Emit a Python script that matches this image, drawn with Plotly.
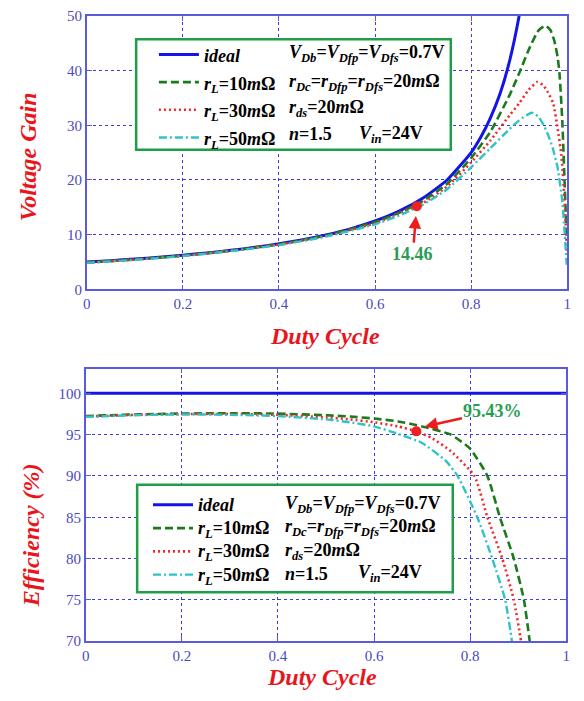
import plotly.graph_objects as go

W, H = 584, 701

# ---------------- data: voltage gain ----------------
d_ideal = [0, 0.05, 0.1, 0.15, 0.2, 0.25, 0.3, 0.35, 0.4, 0.45, 0.5, 0.55, 0.6, 0.65,
           0.7, 0.75, 0.8, 0.82, 0.84, 0.86, 0.88, 0.9, 0.91]
g_ideal = [5.0, 5.26, 5.56, 5.88, 6.25, 6.67, 7.14, 7.69, 8.33, 9.09, 10.0, 11.1, 12.5, 14.3,
           16.7, 20.0, 25.0, 27.8, 31.3, 35.7, 41.7, 50.0, 55.6]

d_g10 = [0, 0.1, 0.2, 0.3, 0.4, 0.5, 0.6, 0.65, 0.7, 0.75, 0.8, 0.84, 0.88, 0.9, 0.92,
         0.94, 0.955, 0.965, 0.973, 0.98, 0.984, 0.99, 0.994, 0.997, 0.999]
g_g10 = [4.95, 5.5, 6.2, 7.1, 8.25, 9.9, 12.3, 14.0, 16.2, 19.3, 24.0, 28.8, 35.5, 39.5, 43.8,
         47.3, 48.2, 47.4, 45.5, 42.5, 39.5, 30.5, 21.0, 14.0, 9.0]

d_g30 = [0, 0.1, 0.2, 0.3, 0.4, 0.5, 0.6, 0.65, 0.7, 0.75, 0.8, 0.84, 0.88, 0.9, 0.92,
         0.938, 0.95, 0.96, 0.971, 0.98, 0.988, 0.993, 0.997, 0.999]
g_g30 = [4.9, 5.45, 6.15, 7.05, 8.2, 9.8, 12.1, 13.8, 15.8, 18.8, 23.2, 27.2, 31.8, 34.0, 36.5,
         37.9, 37.3, 36.0, 34.0, 29.5, 24.5, 18.5, 12.0, 7.0]

d_g50 = [0, 0.1, 0.2, 0.3, 0.4, 0.5, 0.6, 0.65, 0.7, 0.75, 0.8, 0.84, 0.88, 0.9, 0.926,
         0.94, 0.95, 0.96, 0.97, 0.98, 0.99, 0.995, 0.999]
g_g50 = [4.85, 5.4, 6.1, 7.0, 8.1, 9.7, 11.9, 13.5, 15.5, 18.3, 22.3, 25.8, 29.3, 30.9, 32.3,
         31.6, 30.2, 28.3, 25.8, 22.3, 16.0, 10.0, 4.5]

gain_point_d = [0.687]
gain_point_v = [15.2]
gain_label = "14.46"
gain_arrow_d, gain_arrow_v = 0.685, 13.4

# ---------------- data: efficiency ----------------
d_e_ideal = [0, 0.25, 0.5, 0.75, 1.0]
e_ideal = [100, 100, 100, 100, 100]

d_e10 = [0, 0.1, 0.2, 0.3, 0.4, 0.5, 0.55, 0.6, 0.65, 0.7, 0.76, 0.8, 0.836, 0.862, 0.891,
         0.912, 0.924, 0.935]
e_10 = [97.25, 97.45, 97.55, 97.6, 97.55, 97.35, 97.2, 96.95, 96.6, 96.0, 95.0, 93.3, 90.0, 85.0,
        80.0, 75.0, 70.0, 64.0]

d_e30 = [0, 0.1, 0.2, 0.3, 0.4, 0.5, 0.55, 0.6, 0.65, 0.688, 0.72, 0.76, 0.809, 0.836, 0.867,
         0.891, 0.906, 0.915]
e_30 = [97.2, 97.4, 97.5, 97.5, 97.4, 97.1, 96.85, 96.5, 96.0, 95.4, 94.6, 93.0, 90.0, 85.0,
        80.0, 75.0, 70.0, 66.0]

d_e50 = [0, 0.1, 0.2, 0.3, 0.4, 0.5, 0.55, 0.6, 0.65, 0.7, 0.75, 0.774, 0.815, 0.846, 0.873,
         0.887, 0.895]
e_50 = [97.15, 97.35, 97.45, 97.4, 97.25, 96.85, 96.5, 96.0, 95.1, 94.0, 91.8, 90.0, 85.0, 80.0,
        75.0, 70.0, 66.0]

eff_point_d = [0.688]
eff_point_v = [95.4]
eff_label = "95.43%"
eff_arrow_d, eff_arrow_v = 0.706, 96.0

# ---------------- ticks & labels ----------------
x_ticks = [0, 0.2, 0.4, 0.6, 0.8, 1.0]
x_tick_text = ["0", "0.2", "0.4", "0.6", "0.8", "1"]
gain_ticks = [0, 10, 20, 30, 40, 50]
eff_ticks = [70, 75, 80, 85, 90, 95, 100]

legend_col1 = [
    "<b><i>ideal</i></b>",
    "<b><i>r</i><sub><i>L</i></sub>=10<i>m</i>Ω</b>",
    "<b><i>r</i><sub><i>L</i></sub>=30<i>m</i>Ω</b>",
    "<b><i>r</i><sub><i>L</i></sub>=50<i>m</i>Ω</b>",
]
legend_col2 = [
    "<b><i>V</i><sub><i>Db</i></sub>=<i>V</i><sub><i>Dfp</i></sub>=<i>V</i><sub><i>Dfs</i></sub>=0.7V</b>",
    "<b><i>r</i><sub><i>Dc</i></sub>=<i>r</i><sub><i>Dfp</i></sub>=<i>r</i><sub><i>Dfs</i></sub>=20<i>m</i>Ω</b>",
    "<b><i>r</i><sub><i>ds</i></sub>=20<i>m</i>Ω</b>",
    "<b><i>n</i>=1.5</b>",
]
legend_vin = "<b><i>V</i><sub><i>in</i></sub>=24V</b>"

x_title = "Duty Cycle"
y1_title = "Voltage Gain"
y2_title = "Efficiency (%)"

# ---------------- styles ----------------
SERIF = "Liberation Serif"
colors = ["#1414e6", "#1c7a1c", "#f02a2a", "#2fc3c6"]
dashes = ["solid", "8px,4px", "2px,3px", "8px,3px,2px,3px"]
widths = [3, 2.6, 2.6, 2.4]
AXCOL = "#5a5ae0"
TICKCOL = "#4a4ac0"
GRIDCOL = "#3c3cd6"
TITLECOL = "#e8161c"
NOTECOL = "#2a9d55"
BOXCOL = "#1f9e4a"


def px(x):
    return x / W


def py(y):
    return 1 - y / H


fig = go.Figure()

gain_sets = [(d_ideal, g_ideal), (d_g10, g_g10), (d_g30, g_g30), (d_g50, g_g50)]
eff_sets = [(d_e_ideal, e_ideal), (d_e10, e_10), (d_e30, e_30), (d_e50, e_50)]

for i, (dx, dy) in enumerate(gain_sets):
    fig.add_trace(go.Scatter(
        x=dx, y=dy, mode="lines", xaxis="x", yaxis="y",
        name='<span style="font-size:18px">' + legend_col1[i] + "</span>",
        line=dict(color=colors[i], width=widths[i], dash=dashes[i], shape="spline", smoothing=0.5),
        legend="legend", legendgroup="g%d" % i,
    ))

for i, (dx, dy) in enumerate(eff_sets):
    fig.add_trace(go.Scatter(
        x=dx, y=dy, mode="lines", xaxis="x2", yaxis="y2",
        name='<span style="font-size:18px">' + legend_col1[i] + "</span>",
        line=dict(color=colors[i], width=widths[i], dash=dashes[i], shape="spline", smoothing=0.5),
        legend="legend2", legendgroup="e%d" % i,
    ))

fig.add_trace(go.Scatter(x=gain_point_d, y=gain_point_v, mode="markers", xaxis="x", yaxis="y",
                         marker=dict(color="#ee2020", size=10), showlegend=False))
fig.add_trace(go.Scatter(x=eff_point_d, y=eff_point_v, mode="markers", xaxis="x2", yaxis="y2",
                         marker=dict(color="#ee2020", size=10), showlegend=False))

axis_common = dict(
    showline=True, linecolor=AXCOL, linewidth=1.5, mirror="ticks",
    ticks="inside", ticklen=5, tickcolor=AXCOL, tickwidth=1,
    showgrid=True, gridcolor=GRIDCOL, gridwidth=1, griddash="dot",
    zeroline=False, tickfont=dict(family=SERIF, size=15, color=TICKCOL),
)

shapes = [
    dict(type="rect", xref="paper", yref="paper", x0=px(134), x1=px(453), y0=py(145), y1=py(32),
         fillcolor="white", line=dict(color=BOXCOL, width=2.5), layer="above"),
    dict(type="rect", xref="paper", yref="paper", x0=px(135), x1=px(455), y0=py(598), y1=py(488),
         fillcolor="white", line=dict(color=BOXCOL, width=2.5), layer="above"),
]

annotations = []
# axis titles
title_font = dict(family=SERIF, size=24, color=TITLECOL)
for txt, x, y, ang in [(x_title, 325, 336, 0), (x_title, 322, 685, 0),
                       (y1_title, 24, 152, -90), (y2_title, 27, 540, -90)]:
    annotations.append(dict(text="<b><i>%s</i></b>" % txt, xref="paper", yref="paper",
                            x=px(x), y=py(y), xanchor="center", yanchor="middle",
                            showarrow=False, textangle=ang, font=title_font))

# legend second column
leg_font = dict(family=SERIF, size=18, color="black")
for rows, xcol, xvin in [([47, 76, 103, 129], 287, 358), ([508, 532, 556, 579], 283, 357)]:
    for txt, y in zip(legend_col2, rows):
        annotations.append(dict(text=txt, xref="paper", yref="paper", x=px(xcol), y=py(y),
                                xanchor="left", yanchor="middle", showarrow=False, font=leg_font))
    annotations.append(dict(text=legend_vin, xref="paper", yref="paper", x=px(xvin), y=py(rows[3]),
                            xanchor="left", yanchor="middle", showarrow=False, font=leg_font))

# value call-outs
annotations.append(dict(text="<b>%s</b>" % gain_label, x=gain_arrow_d, y=gain_arrow_v, xref="x", yref="y",
                        ax=-3, ay=38, showarrow=True, arrowhead=2, arrowsize=1, arrowwidth=2.5,
                        arrowcolor="#ee1c1c", standoff=0,
                        font=dict(family=SERIF, size=18, color=NOTECOL)))
annotations.append(dict(text="<b>%s</b>" % eff_label, x=eff_arrow_d, y=eff_arrow_v, xref="x2", yref="y2",
                        ax=68, ay=-15, showarrow=True, arrowhead=2, arrowsize=1, arrowwidth=2.5,
                        arrowcolor="#ee1c1c", standoff=0,
                        font=dict(family=SERIF, size=18, color=NOTECOL)))

fig.update_layout(
    width=W, height=H, margin=dict(l=0, r=0, t=0, b=0),
    paper_bgcolor="white", plot_bgcolor="white",
    xaxis=dict(domain=[px(84), px(571)], range=[0, 1], anchor="y",
               tickvals=x_ticks, ticktext=x_tick_text, **axis_common),
    yaxis=dict(domain=[py(288), py(8)], range=[0, 50], anchor="x", tickvals=gain_ticks, **axis_common),
    xaxis2=dict(domain=[px(83), px(570)], range=[0, 1], anchor="y2",
                tickvals=x_ticks, ticktext=x_tick_text, **axis_common),
    yaxis2=dict(domain=[py(648), py(369)], range=[70, 103], anchor="x2", tickvals=eff_ticks, **axis_common),
    legend=dict(x=px(152), y=py(28.2), xanchor="left", yanchor="top", bgcolor="rgba(0,0,0,0)",
                borderwidth=0, font=dict(family=SERIF, size=19, color="black"),
                itemwidth=40, tracegroupgap=0, traceorder="normal"),
    legend2=dict(x=px(146), y=py(491.4), xanchor="left", yanchor="top", bgcolor="rgba(0,0,0,0)",
                 borderwidth=0, font=dict(family=SERIF, size=15.6, color="black"),
                 itemwidth=40, tracegroupgap=0, traceorder="normal"),
    shapes=shapes,
    annotations=annotations,
    showlegend=True,
)

fig.write_html("out.html", config={"displayModeBar": False},
               post_script="document.body.style.margin='0px';")
